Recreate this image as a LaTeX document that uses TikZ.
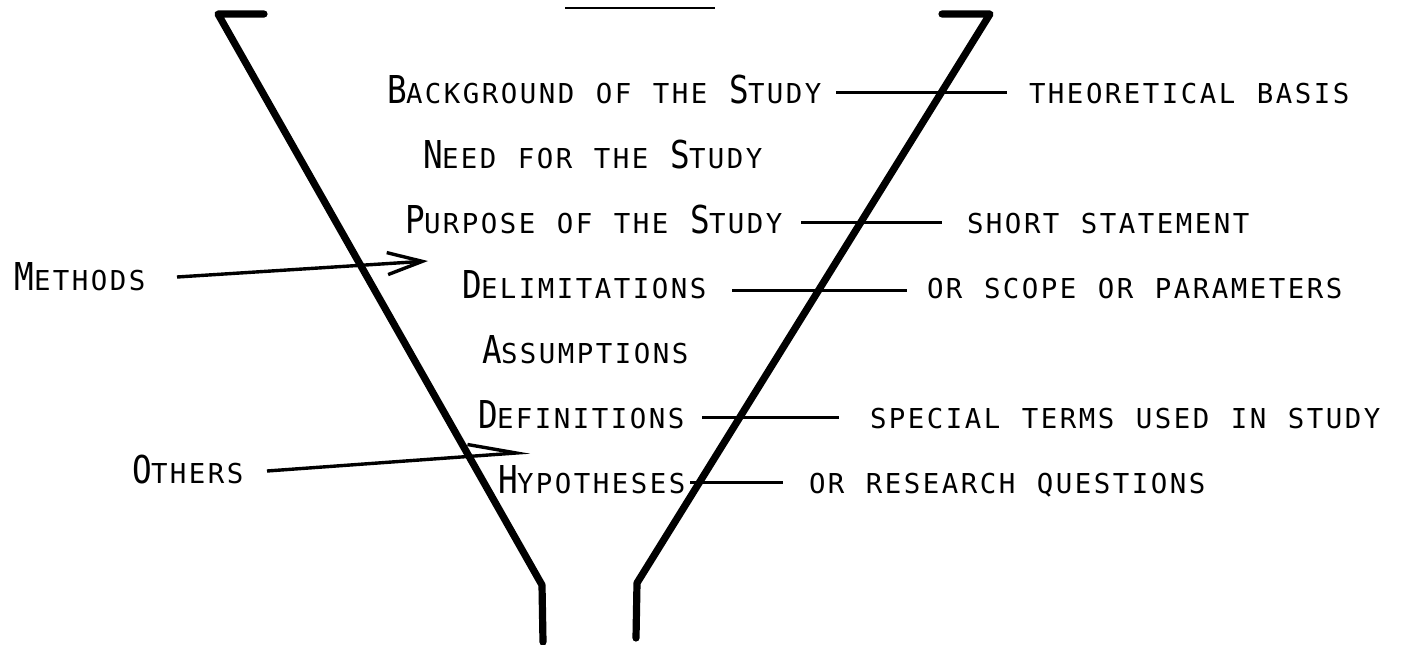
\documentclass[tikz,border=0pt]{standalone}
\usepackage{fontspec}
\usetikzlibrary{calc,arrows.meta}
\newfontfamily\bigf[FakeStretch=0.85]{DejaVu Sans Mono}
\newfontfamily\smf{DejaVu Sans Mono}
\newcommand\bigfont{\bigf\fontsize{19.2pt}{20pt}\selectfont}
\newcommand\smallfont{\smf\fontsize{13.7pt}{14pt}\selectfont}
\ExplSyntaxOn
\dim_new:N \l_grid_dim
\dim_set:Nn \l_grid_dim {9.5pt}
\cs_new_protected:Npn \grid_char:n #1
  {
    \int_compare:nNnTF { `#1 } = { 32 }
      { \hbox_to_wd:nn { \l_grid_dim } { \hfil } }
      {
        \int_compare:nNnTF { `#1 } < { 97 }
          { \hbox_to_wd:nn { \l_grid_dim } { \bigfont #1 \hfil } }
          { \hbox_to_wd:nn { \l_grid_dim } { \smallfont \tex_uppercase:D {#1} \hfil } }
      }
  }
\NewDocumentCommand \gridtext { m }
  { \str_map_function:nN {#1} \grid_char:n }
\ExplSyntaxOff
\tikzset{
  lbl/.style={inner sep=0pt, outer sep=0pt, anchor=base west, text=black},
  funnel/.style={line width=3.6pt, line cap=round, line join=round},
  conn/.style={line width=1.5pt},
  arr/.style={line width=1.7pt},
}
\begin{document}
\begin{tikzpicture}[x=0.5pt,y=-0.5pt]
\useasboundingbox (0,0) rectangle (1409,644);
% title underline (title text cut off)
\draw[line width=1pt] (565,8) -- (715,8);
% funnel
\draw[funnel] (264,14) -- (218,14) -- (542,585) -- (543,642);
\draw[funnel] (942,14) -- (990,14) -- (637,583) -- (636,638);
% central items
\node[lbl] (bg)  at (387,103) {\gridtext{Background of the Study}};
\node[lbl] (nd)  at (423,168) {\gridtext{Need for the Study}};
\node[lbl] (pu)  at (405,233) {\gridtext{Purpose of the Study}};
\node[lbl] (de)  at (462,298) {\gridtext{Delimitations}};
\node[lbl] (as)  at (482,363) {\gridtext{Assumptions}};
\node[lbl] (df)  at (478,428) {\gridtext{Definitions}};
\node[lbl] (hy)  at (498,493) {\gridtext{Hypotheses}};
% right notes
\node[lbl] (bgR) at (1029,103) {\gridtext{theoretical basis}};
\node[lbl] (puR) at (967,233)  {\gridtext{short statement}};
\node[lbl] (deR) at (927,298)  {\gridtext{or scope or parameters}};
\node[lbl] (dfR) at (870,428)  {\gridtext{special terms used in study}};
\node[lbl] (hyR) at (809,493)  {\gridtext{or research questions}};
% left notes
\node[lbl] (me) at (15,290)  {\gridtext{Methods}};
\node[lbl] (ot) at (132,483) {\gridtext{Others}};
% connectors
\draw[conn] ($(bg.base east)+(12,-11)$) -- ($(bgR.base west)+(-22,-11)$);
\draw[conn] ($(pu.base east)+(16,-11)$) -- ($(puR.base west)+(-25,-11)$);
\draw[conn] ($(de.base east)+(23,-8)$)  -- ($(deR.base west)+(-20,-8)$);
\draw[conn] ($(df.base east)+(15,-11)$) -- ($(dfR.base west)+(-31,-11)$);
\draw[conn] ($(hy.base east)+(2,-11)$)  -- ($(hyR.base west)+(-26,-11)$);
% arrows
\coordinate (mtip) at (428,261);
\coordinate (otip) at (530,452);
\draw[arr, -{Straight Barb[length=17.5pt,width=11pt,line width=1.7pt]}] ($(me.base east)+(29,-13)$) -- (mtip);
\draw[arr, -{Straight Barb[length=24pt,width=12pt,line width=1.7pt,harpoon]}] ($(ot.base east)+(21,-12)$) -- (otip);
\end{tikzpicture}
\end{document}
